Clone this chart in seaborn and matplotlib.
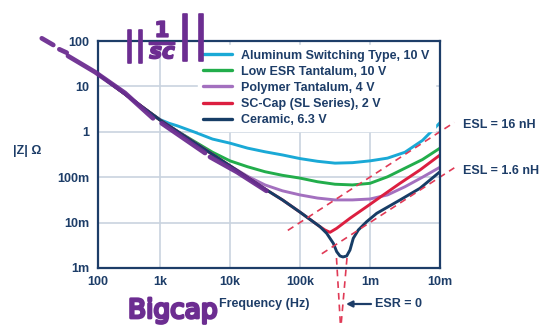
import numpy as np
import pandas as pd
import matplotlib
matplotlib.use("Agg")
import matplotlib.pyplot as plt
import matplotlib.patheffects as pe
from matplotlib.lines import Line2D
from matplotlib.ticker import NullLocator, NullFormatter
import seaborn as sns

# ---------------- data ----------------
series_names = ["Aluminum Switching Type, 10 V", "Low ESR Tantalum, 10 V",
                "Polymer Tantalum, 4 V", "SC-Cap (SL Series), 2 V", "Ceramic, 6.3 V"]

alu_freq = [100, 316, 562, 1000, 1330, 1780, 3160, 5620, 10000, 17800, 31600, 56200, 100000,
            178000, 316000, 562000, 1000000, 1780000, 3160000, 5620000, 10000000]
alu_z = [18.62, 5.888, 3.162, 1.862, 1.55, 1.349, 0.977, 0.692, 0.562, 0.437, 0.363, 0.309, 0.257,
         0.224, 0.204, 0.209, 0.229, 0.263, 0.355, 0.646, 1.585]

tant_freq = [100, 316, 562, 1000, 1780, 3160, 5620, 10000, 17800, 31600, 56200, 100000,
             178000, 316000, 562000, 1000000, 1780000, 3160000, 5620000, 10000000]
tant_z = [18.62, 5.821, 3.236, 1.820, 1.023, 0.603, 0.355, 0.229, 0.170, 0.132, 0.110, 0.0955,
          0.0794, 0.0700, 0.0676, 0.0733, 0.102, 0.158, 0.245, 0.437]

poly_freq = [100, 316, 1000, 3160, 10000, 17800, 31600, 56200, 100000, 178000, 316000,
             562000, 1000000, 1780000, 3160000, 5620000, 10000000]
poly_z = [18.62, 5.821, 1.820, 0.569, 0.178, 0.105, 0.0676, 0.0501, 0.0407, 0.0347, 0.0316,
          0.0316, 0.0331, 0.0407, 0.0617, 0.100, 0.166]

sccap_freq = [100, 316, 1000, 3160, 10000, 31600, 56200, 100000, 139000, 193000, 227500,
              268500, 334200, 517600, 895400, 1549000, 2685000, 5176000, 10000000]
sccap_z = [18.62, 5.821, 1.820, 0.569, 0.178, 0.0550, 0.0316, 0.0170, 0.01175, 0.00813, 0.00687,
           0.00611, 0.00748, 0.01245, 0.0224, 0.0406, 0.0735, 0.1442, 0.3083]

cer_freq = [100, 316, 1000, 3160, 10000, 31600, 56200, 100000, 139000, 193000, 240400, 299200,
            334200, 372400, 411100, 464500, 517600, 576800, 680800, 895400, 1247000, 2685000,
            5176000, 10000000]
cer_z = [18.62, 5.821, 1.820, 0.569, 0.178, 0.0550, 0.0316, 0.0170, 0.01175, 0.00813, 0.00581,
         0.00350, 0.00229, 0.00184, 0.00175, 0.00184, 0.00249, 0.00451, 0.00687, 0.01047,
         0.0160, 0.0315, 0.0570, 0.1321]

x_ticks = [1e2, 1e3, 1e4, 1e5, 1e6, 1e7]
x_tick_labels = ["100", "1k", "10k", "100k", "1m", "10m"]
y_ticks = [1e-3, 1e-2, 1e-1, 1e0, 1e1, 1e2]
y_tick_labels = ["1m", "10m", "100m", "1", "10", "100"]

esl_henry = [16e-9, 1.6e-9]
esl_labels = ["ESL = 16 nH", "ESL = 1.6 nH"]
esl_f_start = [6.7e4, 2.05e5]
esl_f_end = 1.6e7

esr0_f_top = [3.32e5, 4.69e5]
esr0_f_bottom = [3.79e5, 3.85e5]
esr0_z = [1.66e-3, 5.3e-5]

# hand-drawn marker strokes along the 1/(2*pi*f*C) line
scribble_strokes = [
    ([12.4, 19.0], [114.6, 81.7]),
    ([23.8, 31.3], [65.6, 55.2]),
    ([32.8, 89.5, 272, 771], [46.8, 20.7, 7.16, 1.98]),
    ([1057, 4395], [1.54, 0.341]),
    ([5176, 12590, 33110], [0.279, 0.130, 0.0501]),
]

# ---------------- styling ----------------
sns.set_theme(style="white")
plt.rcParams["font.family"] = ["Liberation Sans", "DejaVu Sans"]
plt.rcParams["font.weight"] = "bold"
plt.rcParams["mathtext.fontset"] = "dejavusans"

NAVY = "#1d3d68"
GRID = "#c9d3df"
DASH = "#e03a56"
PURPLE = "#6c2d91"
palette = ["#1aa9d6", "#22ad4b", "#a370bf", "#dc1f40", "#173d66"]

frames = []
for name, f, z in zip(series_names,
                      [alu_freq, tant_freq, poly_freq, sccap_freq, cer_freq],
                      [alu_z, tant_z, poly_z, sccap_z, cer_z]):
    frames.append(pd.DataFrame({"freq": f, "z": z, "series": name}))
df = pd.concat(frames, ignore_index=True)

W, H = 548, 326
fig = plt.figure(figsize=(W / 100, H / 100), dpi=100)
L, R, T, B = 98, 440, 41, 268
ax = fig.add_axes([L / W, 1 - B / H, (R - L) / W, (B - T) / H])

sns.lineplot(data=df, x="freq", y="z", hue="series", hue_order=series_names,
             palette=palette, estimator=None, sort=False,
             lw=2.1, legend=False, ax=ax, zorder=3)
for ln in ax.lines:
    ln.set_solid_capstyle("round")
    ln.set_solid_joinstyle("round")


def fwd(x):
    x = np.asarray(x, dtype=float)
    with np.errstate(all="ignore"):
        lx = np.log10(np.clip(x, 1e-12, None))
    return np.where(lx < 3, (lx - 2) * 62.0, 62.0 + (lx - 3) * 70.0)


def inv(p):
    p = np.asarray(p, dtype=float)
    with np.errstate(all="ignore"):
        return np.where(p < 62, 10 ** (2 + p / 62.0), 10 ** (3 + (p - 62.0) / 70.0))


ax.set_xscale("function", functions=(fwd, inv))
ax.set_yscale("log")
ax.set_xlim(1e2, 1e7)
ax.set_ylim(1e-3, 1e2)
ax.set_xticks(x_ticks, labels=x_tick_labels)
ax.set_yticks(y_ticks, labels=y_tick_labels)
ax.xaxis.set_minor_locator(NullLocator())
ax.yaxis.set_minor_locator(NullLocator())
ax.yaxis.set_minor_formatter(NullFormatter())
ax.tick_params(which="both", length=0, labelsize=9, labelcolor=NAVY)
ax.tick_params(axis="y", pad=6)
ax.tick_params(axis="x", pad=6)
for lab in ax.get_xticklabels() + ax.get_yticklabels():
    lab.set_fontweight("bold")
ax.grid(True, which="major", color=GRID, lw=1.2)
ax.set_axisbelow(True)
for sp in ax.spines.values():
    sp.set_color(NAVY)
    sp.set_linewidth(1.6)
    sp.set_zorder(6)
ax.set_xlabel("")
ax.set_ylabel("")

# ESL asymptotes
for Lh, f0 in zip(esl_henry, esl_f_start):
    fs = np.array([f0, esl_f_end])
    ax.plot(fs, 2 * np.pi * fs * Lh, color=DASH, lw=1.2, ls=(0, (4.0, 3.0)),
            clip_on=False, zorder=4)
# ESR = 0 lines
for ft, fb in zip(esr0_f_top, esr0_f_bottom):
    ax.plot([ft, fb], esr0_z, color=DASH, lw=1.2, ls=(0, (4.0, 3.0)),
            clip_on=False, zorder=4)

# purple scribbles
for fs, zs in scribble_strokes:
    ax.plot(fs, zs, color=PURPLE, lw=3.4, solid_capstyle="round", clip_on=False,
            zorder=7, alpha=0.95)

# legend
handles = [Line2D([0], [0], color=c, lw=2.4) for c in palette]
leg = ax.legend(handles, series_names, loc="upper left",
                bbox_to_anchor=((198 - L) / (R - L), (B - 44.5) / (B - T)),
                borderpad=0.4, borderaxespad=0, handlelength=2.3, handletextpad=0.78,
                labelspacing=0.33, frameon=True, fancybox=False, facecolor="white",
                edgecolor="white", framealpha=1,
                prop={"size": 9, "weight": "bold"}, labelcolor=NAVY)
leg.set_zorder(5)


def fx(px):
    return px / W


def fy(py):
    return 1 - py / H


txt = dict(color=NAVY, fontsize=9, fontweight="bold")
fig.text(fx(463), fy(124.5), esl_labels[0], ha="left", va="center", **txt)
fig.text(fx(463), fy(171), esl_labels[1], ha="left", va="center", **txt)
fig.text(fx(264), fy(304), "Frequency (Hz)", ha="center", va="center", **txt)
fig.text(fx(375), fy(304), "ESR = 0", ha="left", va="center", **txt)
fig.text(fx(13), fy(151), "|Z| Ω", ha="left", va="center", **txt)
ax.annotate("", xy=(fx(346), fy(304)), xytext=(fx(371), fy(304)),
            xycoords="figure fraction", textcoords="figure fraction",
            arrowprops=dict(arrowstyle="-|>", color=NAVY, lw=1.6, mutation_scale=9,
                            shrinkA=0, shrinkB=0))

# handwritten notes
hand = dict(color=PURPLE, ha="center", va="center", family="DejaVu Sans",
            fontweight="normal",
            path_effects=[pe.withStroke(linewidth=1.2, foreground=PURPLE)])
fig.text(fx(135), fy(46), "||", fontsize=24, **hand)
fig.text(fx(163), fy(40), r"$\frac{1}{sc}$", fontsize=22, **hand)
fig.text(fx(193), fy(38), "||", fontsize=34, **hand)
fig.text(fx(128), fy(298), "Bigcap", color=PURPLE, fontsize=19, ha="left", va="top",
         family="DejaVu Sans", fontweight="normal",
         path_effects=[pe.withStroke(linewidth=2.0, foreground=PURPLE)])

fig.savefig("out.png", dpi=100)
